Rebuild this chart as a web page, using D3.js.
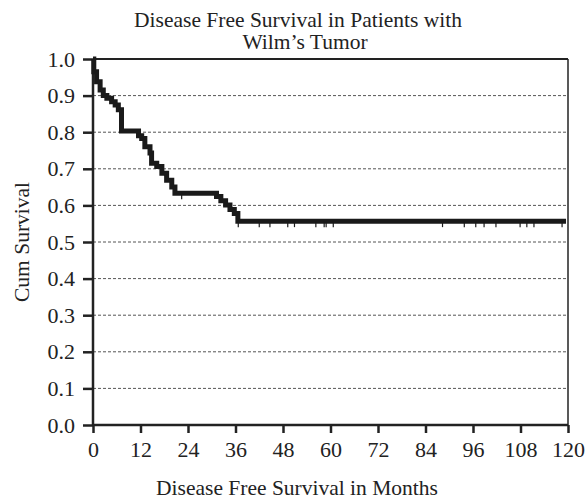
<!DOCTYPE html>
<html>
<head>
<meta charset="utf-8">
<script src="https://cdn.jsdelivr.net/npm/d3@7"></script>
<style>
    body { margin: 0; background: #fff; }
    svg text { font-family: "Liberation Serif", "Times New Roman", serif; fill: #222; }
</style>
</head>
<body>
<svg id="draw-area" width="587" height="501"></svg>
<script>
// steps of the Kaplan-Meier curve: month of event and survival after it
let step_months = [0.2, 0.9, 1.8, 2.6, 3.5, 4.7, 5.6, 6.4, 7.2, 11.5, 12.3, 13.1, 14.4, 14.8, 16.1, 17.4,
    18.6, 19.9, 20.7, 31.2, 32.3, 33.5, 34.6, 35.7, 36.6];
let step_surv = [0.965, 0.938, 0.915, 0.900, 0.893, 0.883, 0.874, 0.861, 0.803, 0.790, 0.783, 0.760, 0.743,
    0.715, 0.706, 0.688, 0.669, 0.650, 0.633, 0.624, 0.613, 0.601, 0.589, 0.578, 0.557];
let censor_months = [22.4, 36.7, 42.0, 44.7, 49.2, 50.9, 56.3, 58.4, 58.9, 60.7, 88.3, 93.8, 96.7, 98.8,
    101.8, 107.9, 109.6, 111.4, 118.5];
let last_month = 119.5;

let x_ticks = [0, 12, 24, 36, 48, 60, 72, 84, 96, 108, 120];
let y_ticks = [0, 0.1, 0.2, 0.3, 0.4, 0.5, 0.6, 0.7, 0.8, 0.9, 1.0];
let title_lines = ["Disease Free Survival in Patients with", "Wilm\u2019s Tumor"];
let x_title = "Disease Free Survival in Months";
let y_title = "Cum Survival";

let margin = { left: 93, right: 19, top: 59, bottom: 76 };
let width = 587, height = 501;
let svg = d3.select("#draw-area");

let xScale = d3.scaleLinear().domain([0, 120]).range([margin.left, width - margin.right]);
let yScale = d3.scaleLinear().domain([0, 1]).range([height - margin.bottom, margin.top]);

// dotted grid
svg.append("g")
    .selectAll("line")
    .data(y_ticks.filter(t => t > 0 && t < 1))
    .enter()
    .append("line")
    .attr("x1", xScale(0))
    .attr("x2", xScale(120))
    .attr("y1", d => yScale(d))
    .attr("y2", d => yScale(d))
    .style("stroke", "#555")
    .style("stroke-width", 1)
    .style("stroke-dasharray", "3,2");

// frame: top and right
svg.append("line")
    .attr("x1", xScale(0)).attr("x2", xScale(120))
    .attr("y1", yScale(1)).attr("y2", yScale(1))
    .style("stroke", "#222").style("stroke-width", 2);
svg.append("line")
    .attr("x1", xScale(120)).attr("x2", xScale(120))
    .attr("y1", yScale(1)).attr("y2", yScale(0))
    .style("stroke", "#222").style("stroke-width", 1.5);

let xAxis = d3.axisBottom(xScale).tickValues(x_ticks).tickSize(8).tickPadding(8).tickFormat(d3.format("d"));
let yAxis = d3.axisLeft(yScale).tickValues(y_ticks).tickSize(10).tickPadding(8).tickFormat(d3.format(".1f"));

let gx = svg.append("g")
    .attr("class", "x-axis")
    .attr("transform", `translate(0, ${yScale(0)})`)
    .call(xAxis);
let gy = svg.append("g")
    .attr("class", "y-axis")
    .attr("transform", `translate(${xScale(0)}, 0)`)
    .call(yAxis);

[gx, gy].forEach(g => {
    g.select(".domain").style("stroke", "#222").style("stroke-width", 2.5);
    g.selectAll(".tick line").style("stroke", "#222").style("stroke-width", 2.5);
    g.selectAll(".tick text")
        .style("font-family", "'Liberation Serif', serif")
        .style("font-size", "22px")
        .style("fill", "#222");
});
gx.select(".domain").attr("d", `M${xScale(0)},0H${xScale(120)}`);
gy.select(".domain").attr("d", `M0,${yScale(0)}V${yScale(1)}`);

// survival curve
let pts = [{ m: 0, s: 1 }];
step_months.forEach((m, i) => pts.push({ m: m, s: step_surv[i] }));
pts.push({ m: last_month, s: step_surv[step_surv.length - 1] });

let line = d3.line()
    .x(p => xScale(p.m))
    .y(p => yScale(p.s))
    .curve(d3.curveStepAfter);

svg.append("path")
    .attr("d", line(pts))
    .style("fill", "none")
    .style("stroke", "#1a1a1a")
    .style("stroke-width", 5);

function survAt(m) {
    let s = 1;
    step_months.forEach((t, i) => { if (t <= m) s = step_surv[i]; });
    return s;
}

svg.append("g")
    .selectAll("line")
    .data(censor_months)
    .enter()
    .append("line")
    .attr("x1", d => xScale(d))
    .attr("x2", d => xScale(d))
    .attr("y1", d => yScale(survAt(d)))
    .attr("y2", d => yScale(survAt(d)) + 6)
    .style("stroke", "#1a1a1a")
    .style("stroke-width", 1.2);

// titles
svg.append("text")
    .attr("x", 298)
    .attr("y", 27)
    .attr("text-anchor", "middle")
    .style("font-size", "21.5px")
    .text(title_lines[0]);
svg.append("text")
    .attr("x", 305)
    .attr("y", 49)
    .attr("text-anchor", "middle")
    .style("font-size", "21.5px")
    .text(title_lines[1]);

svg.append("text")
    .attr("x", 297)
    .attr("y", 495)
    .attr("text-anchor", "middle")
    .style("font-size", "21.5px")
    .text(x_title);

svg.append("text")
    .attr("transform", `translate(29, ${(yScale(0) + yScale(1)) / 2}) rotate(-90)`)
    .attr("text-anchor", "middle")
    .style("font-size", "21.5px")
    .text(y_title);
</script>
</body>
</html>
